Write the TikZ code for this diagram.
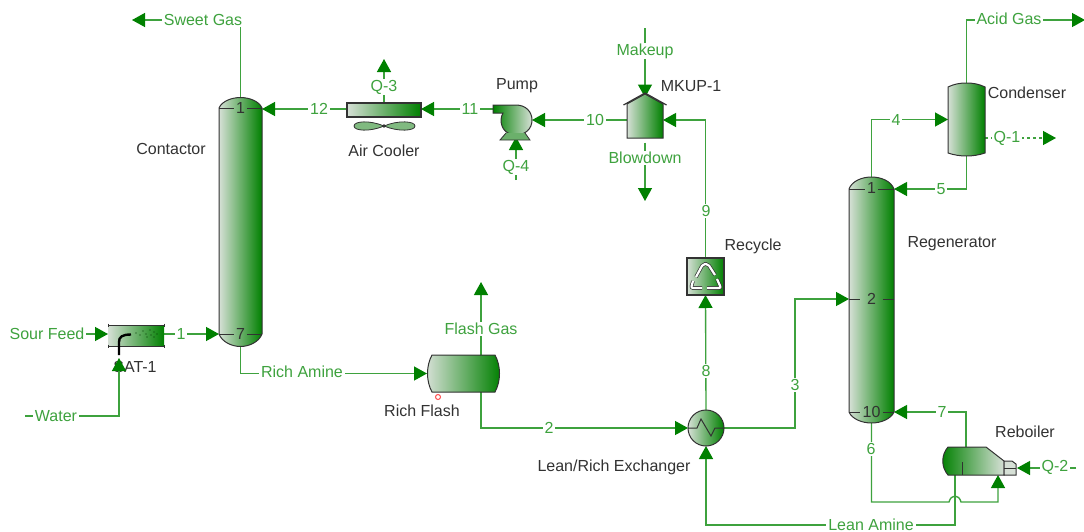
\documentclass[tikz,border=0pt]{standalone}
\usepackage{fontspec}
\setmainfont{Liberation Sans}
\usepackage{tikz}
\usetikzlibrary{arrows.meta}
\usetikzlibrary{shapes,positioning}
\definecolor{streamgreen}{RGB}{62,162,62}
\definecolor{tipgreen}{RGB}{0,128,0}
\definecolor{palegreen}{RGB}{214,224,214}
\definecolor{labelgray}{RGB}{50,50,50}
\newcommand{\labelfont}{\fontsize{16}{19}\selectfont}
\tikzset{
    stream/.style={draw=streamgreen, line width=1.35pt, -{Triangle[length=13pt,width=14pt,color=tipgreen]}},
    streamlabel/.style={text=streamgreen, fill=white, inner xsep=2pt, inner ysep=1pt, font=\labelfont},
    unitlabel/.style={text=labelgray, inner sep=0pt, font=\labelfont},
    traylabel/.style={text=labelgray, inner sep=0pt, font=\labelfont},
    unit/.style={inner sep=0pt, outer sep=0pt},
    vessel/.style={draw=labelgray, line width=1pt, left color=palegreen, right color=tipgreen},
    vesselrev/.style={draw=labelgray, line width=1pt, left color=tipgreen, right color=palegreen},
    recyclearrow/.style={draw=labelgray, double=white, double distance=2.2pt, line width=.7pt, rounded corners=2pt},
}
\begin{document}
\begin{tikzpicture}[x=1pt,y=-1pt]
    \useasboundingbox (0,0) rectangle (1084,531);

    % Unit anchors
    \node[unit, minimum width=43pt, minimum height=250pt] (contactor) at (240.5,222) {};
    \node[unit, minimum width=45pt, minimum height=246pt] (regenerator) at (871.5,300) {};
    \node[unit, minimum width=37pt, minimum height=73pt] (condenser) at (966.5,119.5) {};
    \node[unit, minimum width=56pt, minimum height=21pt] (sat) at (136,334) {};
    \node[unit, minimum width=74pt, minimum height=14pt] (cooler) at (384,110) {};
    \node[unit, minimum width=36pt, minimum height=34pt] (pump) at (516,120) {};
    \node[unit, minimum width=36pt, minimum height=45pt] (mkup) at (645,120) {};
    \node[unit, minimum width=37pt, minimum height=37pt] (recycle) at (705.5,276.5) {};
    \node[unit, minimum width=73pt, minimum height=37pt] (richflash) at (463.5,373.5) {};
    \node[unit, circle, minimum size=36pt] (exchanger) at (706,428) {};
    \node[unit, minimum width=73pt, minimum height=28pt] (reboiler) at (979.5,461) {};

    % Free ends
    \coordinate (sweetgas) at (132,20);
    \coordinate (acidgas) at (1085,20);
    \coordinate (sourfeed) at (85,334);
    \coordinate (waterin) at (25,416);
    \coordinate (makeupin) at (645,28);
    \coordinate (blowdownout) at (645,201);
    \coordinate (flashgas) at (481,282);
    \coordinate (q1out) at (1056,138);
    \coordinate (q2in) at (1076,468);
    \coordinate (q3out) at (384,59);
    \coordinate (q4in) at (516,180);

    % Tray points
    \coordinate (contactor-1) at (262,109);
    \coordinate (contactor-7) at (219,334);
    \coordinate (regen-1) at (894,189);
    \coordinate (regen-2) at (849,299);
    \coordinate (regen-10) at (894,412);
    \coordinate (lean-out) at (955,475);
    \coordinate (six-in) at (998,475);
    \coordinate (seven-out) at (966,447);
    \coordinate (pump-in) at (532,120);
    \coordinate (pump-out) at (493,109);

    % Top streams
    \draw[stream] (contactor.north) |- (sweetgas);
    \draw[stream] (condenser.north) |- (acidgas);
    \draw[stream] (cooler.west |- contactor-1) -- (contactor-1);
    \draw[stream] (pump-out) -- (cooler.east |- pump-out);
    \draw[stream] (mkup.west) -- (pump-in);
    \draw[stream] (makeupin) -- (mkup.north);
    \draw[stream] (mkup.south) -- (blowdownout);
    \draw[stream] (recycle.north) |- (mkup.east);
    \draw[stream] (exchanger.north) -- (recycle.south);
    \draw[stream] (cooler.north) -- (q3out);
    \draw[stream] (q4in) -- (pump.south);

    % Feed side
    \draw[stream] (sourfeed) -- (sat.west);
    \draw[stream] (sat.east) -- (contactor-7);
    \draw[stream] (contactor.south) |- (richflash.west);
    \draw[stream] (richflash.north -| flashgas) -- (flashgas);
    \draw[stream] (richflash.south -| flashgas) |- (exchanger.west);

    % Regenerator side
    \draw[stream] (exchanger.east) -- (795,428) |- (regen-2);
    \draw[stream] (regenerator.north) |- (condenser.west);
    \draw[stream] (condenser.south) |- (regen-1);
    \draw[stream, dash pattern=on 3pt off 3pt] (condenser.east |- q1out) -- (q1out);
    \draw[stream] (seven-out) |- (regen-10);
    \draw[stream] (regenerator.south) |- (949,502) .. controls (951,494) and (959,494) .. (961,502) -| (six-in);
    \draw[stream] (lean-out) |- (706,525) -- (exchanger.south);
    \draw[stream] (q2in) -- (1017,468);

    % Stream labels
    \node[streamlabel] (lbl-sweet) at (203,20) {Sweet Gas};
    \node[streamlabel] (lbl-acid) at (1009,19) {Acid Gas};
    \node[streamlabel] (lbl-12) at (319,109) {12};
    \node[streamlabel] (lbl-11) at (470,109) {11};
    \node[streamlabel] (lbl-10) at (595,120) {10};
    \node[streamlabel] (lbl-makeup) at (645,51) {Makeup};
    \node[streamlabel] (lbl-blowdown) at (645,158) {Blowdown};
    \node[streamlabel] (lbl-9) at (706,211) {9};
    \node[streamlabel] (lbl-8) at (706,371) {8};
    \node[streamlabel] (lbl-q3) at (384,87) {Q-3};
    \node[streamlabel] (lbl-q4) at (516,167) {Q-4};
    \node[streamlabel] (lbl-sour) at (47,334) {Sour Feed};
    \node[streamlabel] (lbl-water) at (56,416) {Water};
    \node[streamlabel] (lbl-1) at (181,334) {1};
    \node[streamlabel] (lbl-rich) at (302,372) {Rich Amine};
    \node[streamlabel] (lbl-flash) at (481,329) {Flash Gas};
    \node[streamlabel] (lbl-2) at (549,428) {2};
    \node[streamlabel] (lbl-3) at (795,385) {3};
    \node[streamlabel] (lbl-4) at (896,120) {4};
    \node[streamlabel] (lbl-5) at (941,189) {5};
    \node[streamlabel] (lbl-q1) at (1007,138) {Q-1};
    \node[streamlabel] (lbl-7) at (942,412) {7};
    \node[streamlabel] (lbl-6) at (871,449) {6};
    \node[streamlabel, inner ysep=0pt] (lbl-lean) at (871,524.5) {Lean Amine};
    \node[streamlabel] (lbl-q2) at (1055,467) {Q-2};

    % Contactor
    \draw[vessel] (219,108) .. controls (222,101) and (232,97.5) .. (240.5,97.5) .. controls (249,97.5) and (259,101) .. (262,108)
        -- (262,334) .. controls (259,342) and (249,346.5) .. (240.5,346.5) .. controls (232,346.5) and (222,342) .. (219,334) -- cycle;
    \draw[labelgray] (219,108) -- (234,108) (247,108) -- (262,108) (219,334) -- (234,334) (247,334) -- (262,334);
    \node[traylabel] (contactor-top) at (240.5,108) {1};
    \node[traylabel] (contactor-bot) at (240.5,334) {7};

    % Regenerator
    \draw[vessel] (849,189) .. controls (852,181) and (862,177) .. (871.5,177) .. controls (881,177) and (891,181) .. (894,189)
        -- (894,412) .. controls (891,419) and (881,423) .. (871.5,423) .. controls (862,423) and (852,419) .. (849,412) -- cycle;
    \draw[labelgray] (849,189) -- (865,189) (878,189) -- (894,189) (849,412) -- (860,412) (883,412) -- (894,412) (849,299) -- (860,299) (883,299) -- (894,299);
    \node[traylabel] (regen-top) at (871.5,188) {1};
    \node[traylabel] (regen-mid) at (871.5,299) {2};
    \node[traylabel] (regen-bot) at (871.5,412) {10};

    % Condenser
    \draw[vessel] (948,87) .. controls (954,84) and (960,83) .. (966.5,83) .. controls (973,83) and (979,84) .. (985,87)
        -- (985,153) .. controls (979,155) and (973,156) .. (966.5,156) .. controls (960,156) and (954,155) .. (948,153) -- cycle;

    % Saturator
    \path[vessel, draw=none] (108,326) rectangle (164,346);
    \draw[labelgray, line width=1pt] (108,325) -- (164,325) (108,346) -- (164,346)
        (108,323.5) -- (108,327) (164,323.5) -- (164,327) (108,344.5) -- (108,348) (164,344.5) -- (164,348);
    \draw[black, line width=2.4pt] (119,355) -- (119,342) .. controls (119,337) and (122,334.5) .. (131,334.5);
    \foreach \dotx/\doty in {136/333,140/335,143/331,146/334,147/337,150/330,151/335,154/332,154/337,157/334}
        \fill[tipgreen!40!black] (\dotx,\doty) circle (0.6pt);

    % Air cooler
    \path[vessel, line width=1.2pt, draw=black!80] (347,103) rectangle (421,117);
    \draw[labelgray, fill=tipgreen!40!palegreen, line width=0.8pt] (384,126) .. controls (370,120) and (354,121) .. (354,126) .. controls (354,131) and (370,132) .. (384,126)
        .. controls (398,120) and (415,121) .. (415,126) .. controls (415,131) and (398,132) .. (384,126) -- cycle;
    \fill[labelgray] (384,126) circle (1.8pt);

    % Pump
    \draw[vesselrev] (493,105) -- (516,105) .. controls (526,105) and (532,112) .. (532,120) .. controls (532,129) and (525,135) .. (516,135)
        .. controls (507,135) and (501,129) .. (501,120) .. controls (501,117) and (502,115) .. (503,113) -- (493,113) -- cycle;
    \draw[labelgray, fill=tipgreen!50!palegreen, line width=0.8pt] (506,133) -- (500,140) -- (530,140) -- (525,133);

    % Make-up
    \draw[vessel] (627,104) -- (645,94) -- (663,104) -- (663,138) -- (627,138) -- cycle;
    \draw[labelgray, line width=1.2pt] (623.5,105) -- (645,93) -- (666.5,105);

    % Recycle
    \path[vessel, draw=black!80, line width=1.2pt] (687,258) rectangle (724,295);
    \draw[recyclearrow] (696,277) -- (703,264) -- (708,264) -- (715,275);
    \draw[recyclearrow] (717,279) -- (721,288) -- (707,288);
    \draw[recyclearrow] (702,288) -- (691,288) -- (693,281);

    % Rich flash
    \draw[vessel] (432,355) -- (495,355) .. controls (501,366) and (501,381) .. (495,392) -- (432,392) .. controls (426,381) and (426,366) .. (432,355) -- cycle;
    \draw[red!70, line width=1pt, fill=white] (438,397) circle (2.5pt);

    % Exchanger
    \draw[vessel] (exchanger) circle (18pt);
    \draw[labelgray, line width=1pt] (688,428) -- (697,428) -- (701,419) -- (711,436) -- (715,428) -- (724,428);

    % Reboiler
    \draw[vesselrev] (948,447) -- (986,447) -- (1004,461) -- (1004,475) -- (948,475) .. controls (941,467) and (941,455) .. (948,447) -- cycle;
    \draw[labelgray, line width=1pt, fill=palegreen] (1004,461) -- (1012,461) -- (1016,464) -- (1016,475) -- (1004,475) -- cycle;
    \draw[labelgray] (1004,468) -- (1016,468) (962,462) -- (962,475);

    % Unit names
    \node[unitlabel] (name-contactor) at (171,149) {Contactor};
    \node[unitlabel] (name-cooler) at (384,151) {Air Cooler};
    \node[unitlabel] (name-pump) at (517,86) {Pump};
    \node[unitlabel] (name-mkup) at (691,86) {MKUP-1};
    \node[unitlabel] (name-condenser) at (1027,93) {Condenser};
    \node[unitlabel] (name-regen) at (952,244) {Regenerator};
    \node[unitlabel] (name-recycle) at (753,246) {Recycle};
    \node[unitlabel] (name-reboiler) at (1025,432) {Reboiler};
    \node[unitlabel] (name-flash) at (422,411) {Rich Flash};
    \node[unitlabel] (name-exch) at (614,467) {Lean/Rich Exchanger};
    \node[unitlabel] (name-sat) at (135,367) {SAT-1};

    % Water line runs over the SAT-1 name
    \draw[stream] (waterin) -| (119,358);
    \node[streamlabel] (lbl-water) at (56,416) {Water};
\end{tikzpicture}
\end{document}
